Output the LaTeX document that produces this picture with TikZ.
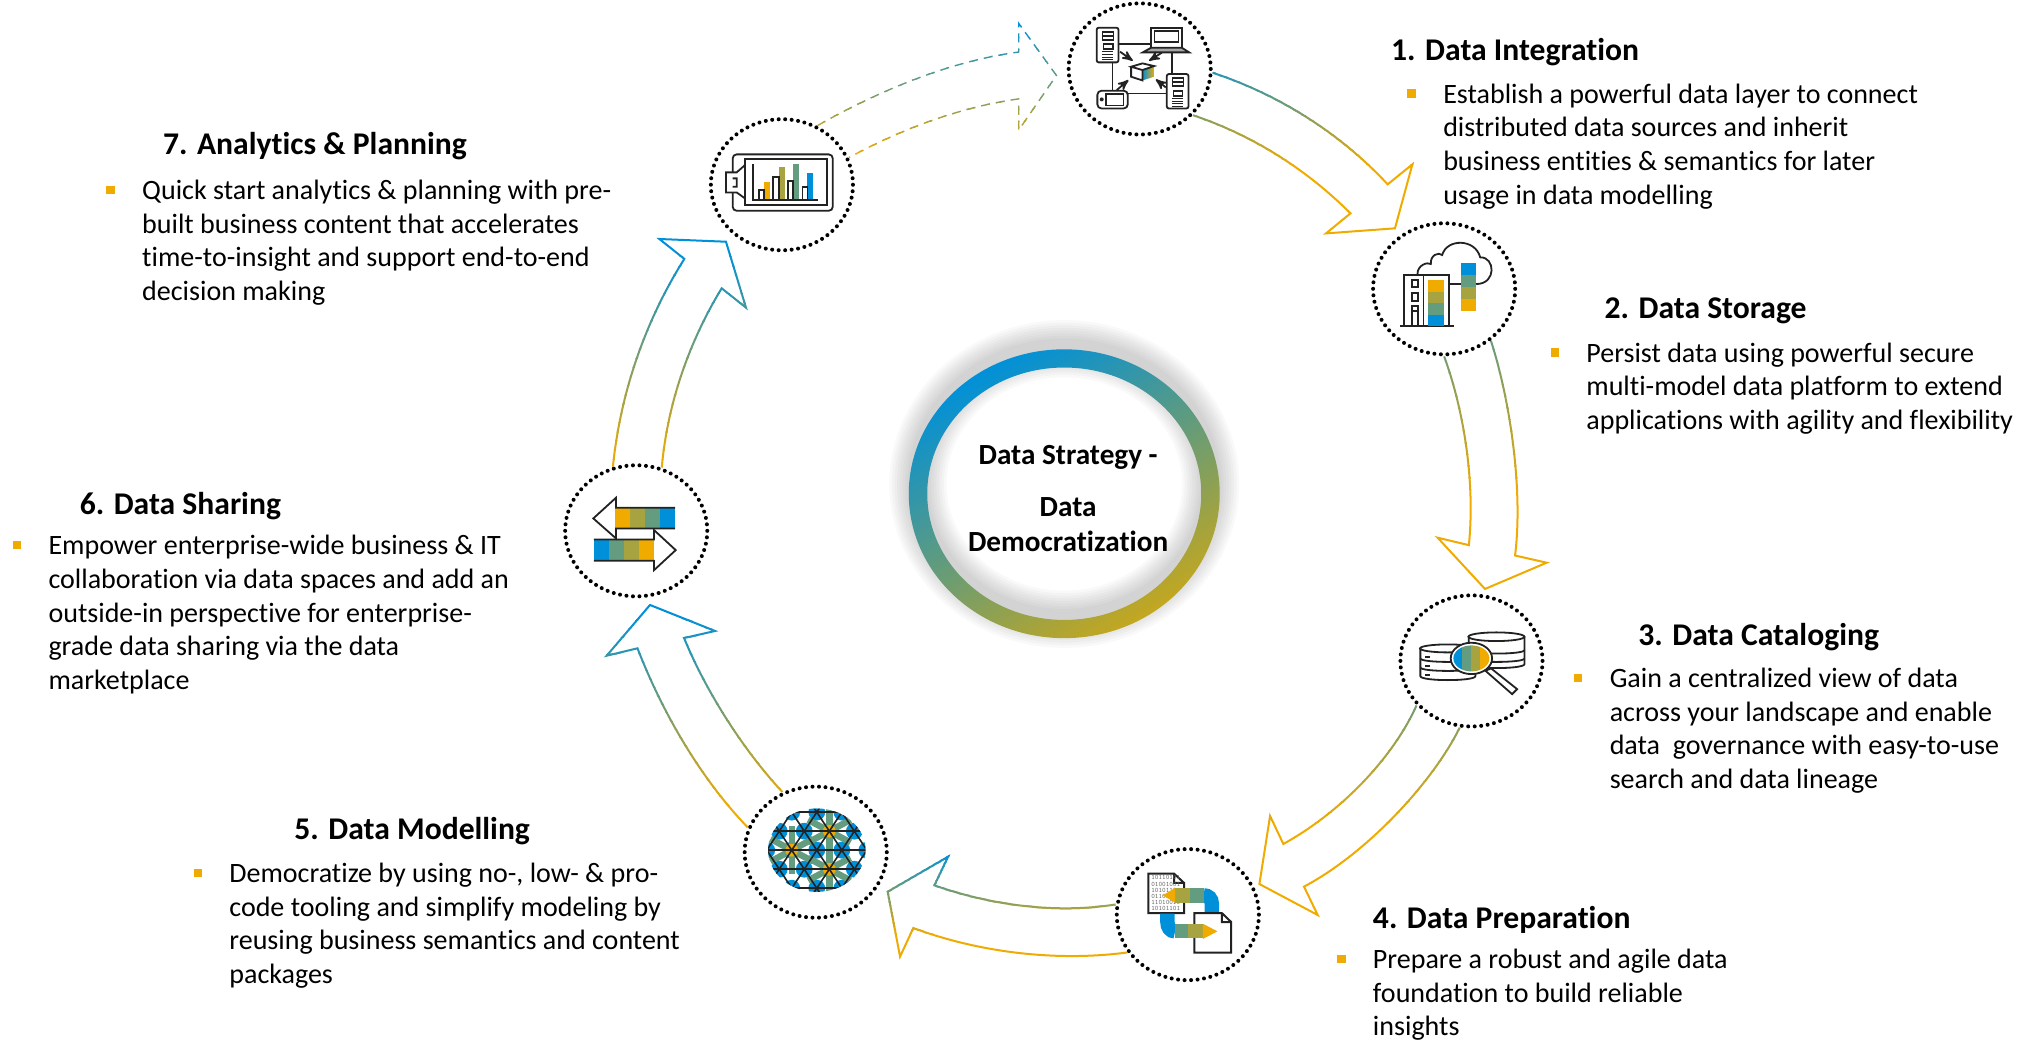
\documentclass[tikz,border=0pt]{standalone}
\usepackage{fontspec}
\setmainfont{Carlito}[Ligatures=NoCommon]
\usetikzlibrary{arrows,positioning,shapes.geometric}
\definecolor{sapblue}{HTML}{0090D9}
\definecolor{sapgreen}{HTML}{639C7F}
\definecolor{sapolive}{HTML}{A8A341}
\definecolor{sapgold}{HTML}{F0AB00}
\definecolor{ringgold}{HTML}{C4A71F}
\definecolor{iconline}{HTML}{222222}
% outline coloured from blue to gold, top to bottom
\newcommand{\gradpath}[4]{
	\foreach \i in {0,...,23}{
		\pgfmathsetmacro{\mix}{\i*100/23}
		\pgfmathsetmacro{\ya}{\i==0 ? -50 : #1+(#2-#1)*\i/24}
		\pgfmathsetmacro{\yb}{\i==23 ? 900 : #1+(#2-#1)*(\i+1)/24+.4}
		\begin{scope}
			\clip (0,\ya) rectangle (1568,\yb);
			\draw[sapgold!\mix!sapblue,#3] #4;
		\end{scope}
	}
}
\tikzset{
    %Define standard arrow tip
    >=stealth',
    %Define style for the dotted rings
    stage/.style={
   	ellipse,
   	draw=black,
   	line width=2pt,
   	line cap=round,
   	dash pattern=on 0pt off 3.25pt,
   	minimum width=71pt,
   	minimum height=65.5pt,
   	inner sep=0pt
   },
    %Define style for texts
    headline/.style={
   	anchor=west,
   	inner sep=0pt,
   	yshift=-1.3pt,
   	font=\fontsize{15.8}{18}\selectfont\bfseries
   },
    bodytext/.style={
   	anchor=north west,
   	inner sep=0pt,
   	align=left,
   	yshift=-2pt,
   	font=\fontsize{14}{16.85}\selectfont
   },
    marker/.style={
   	rectangle,
   	fill=sapgold,
   	minimum size=4.2pt,
   	inner sep=0pt
   },
    % Define arrow style
    pil/.style={
           line width=1pt,
           line join=miter},
    pildash/.style={
           line width=.7pt,
           dash pattern=on 4.5pt off 3pt},
    icon/.style={
           draw=iconline,
           line width=.9pt},
    zoomed/.style={
           x=.1667pt,
           y=-.1667pt}
}
\begin{document}
\begin{tikzpicture}[x=.65pt,y=-.65pt]
	\useasboundingbox (0,0) rectangle (1568,799);
	%hub
	\foreach \w in {44,40,36,32,28,24,20,16}{
		\draw[black,opacity=.025,line width=\w*.65pt] (818,372) ellipse [x radius=112.5,y radius=104];
	}
	\shade[even odd rule,top color=sapblue,bottom color=ringgold,shading angle=30]
		(818,379.5) ellipse [x radius=119.5,y radius=111]
		(818,379.5) ellipse [x radius=105.3,y radius=97];
	\node[align=center,inner sep=0pt,font=\fontsize{14.6}{17.5}\selectfont\bfseries] (hub) at (821,383)
		{Data Strategy -\\[8.5pt]Data\\Democratization};
	%nodes
	\node[stage] (integ) at (876,53) {};
	\node[stage] (store) at (1110,222) {};
	\node[stage] (catal) at (1131,508) {};
	\node[stage] (prep) at (913,703) {};
	\node[stage] (model) at (627,655) {};
	\node[stage] (share) at (489,408) {};
	\node[stage] (analyt) at (601,142) {};
	%arrows
	\gradpath{40}{130}{pil}{(integ.-3) .. controls (975,70) and (1025,97) .. (1066.6,141.7) -- (1085.6,126.3) -- (1072.2,175.5) -- (1019.2,179.4) -- (1038,164) .. controls (1002,128) and (960,103) .. (integ.-41)}
	\gradpath{170}{385}{pil}{(store.-90) .. controls (1125,315) and (1134,370) .. (1129,419) -- (1105,413.3) -- (1141.4,452.7) -- (1188.8,432.5) -- (1164.5,427) .. controls (1171,375) and (1160,305) .. (store.-48.5)}
	\gradpath{450}{640}{pil}{(catal.-141) .. controls (1072,580) and (1033,623) .. (986.4,648.7) -- (976.2,627.2) -- (968,679.5) -- (1012.8,703.3) -- (1002.3,681.5) .. controls (1052,655) and (1102,600) .. (catal.-100)}
	\gradpath{655}{720}{pil}{(prep.172) .. controls (815,702) and (765,697) .. (718.2,680.5) -- (728.7,658.5) -- (682.3,685.4) -- (691.8,735.3) -- (702,713.3) .. controls (755,733) and (815,739) .. (prep.212)}
	\gradpath{470}{625}{pil}{(model.160) .. controls (540,600) and (510,550) .. (490,498.3) -- (466.3,504) -- (499.6,465) -- (549.6,485) -- (525.8,490.4) .. controls (542,530) and (570,575) .. (model.119)}
	\gradpath{190}{360}{pil}{(share.110) .. controls (477,300) and (497,245) .. (526,199) -- (506.8,183.7) -- (558,185.8) -- (573.4,236.5) -- (554.7,221.6) .. controls (530,262) and (513,310) .. (share.68)}
	\gradpath{15}{125}{pildash}{(analyt.59) .. controls (675,70) and (730,47) .. (783,40) -- (783,18) -- (812,58) -- (783,100) -- (783,76) .. controls (740,82) and (695,98) .. (analyt.22)}
	%texts
	\node[headline] (t1) at (1069,38) {1. Data Integration};
	\node[marker] (b1) at (1085,72) {};
	\node[bodytext] (d1) at (1109,61) {Establish a powerful data layer to connect\\distributed data sources and inherit\\business entities \& semantics for later\\usage in data modelling};
	\node[headline] (t2) at (1233,237) {2. Data Storage};
	\node[marker] (b2) at (1195,271) {};
	\node[bodytext] (d2) at (1219,260) {Persist data using powerful secure\\multi-model data platform to extend\\applications with agility and flexibility};
	\node[headline] (t3) at (1259,488) {3. Data Cataloging};
	\node[marker] (b3) at (1213,521) {};
	\node[bodytext] (d3) at (1237,510) {Gain a centralized view of data\\across your landscape and enable\\data\ \ governance with easy-to-use\\search and data lineage};
	\node[headline] (t4) at (1055,705) {4. Data Preparation};
	\node[marker] (b4) at (1031,737) {};
	\node[bodytext] (d4) at (1055,726) {Prepare a robust and agile data\\foundation to build reliable\\insights};
	\node[headline] (t5) at (226,637) {5. Data Modelling};
	\node[marker] (b5) at (152,671) {};
	\node[bodytext] (d5) at (176,660) {Democratize by using no-, low- \& pro-\\code tooling and simplify modeling by\\reusing business semantics and content\\packages};
	\node[headline] (t6) at (61,387) {6. Data Sharing};
	\node[marker] (b6) at (13,419) {};
	\node[bodytext] (d6) at (37,408) {Empower enterprise-wide business \& IT\\collaboration via data spaces and add an\\outside-in perspective for enterprise-\\grade data sharing via the data\\marketplace};
	\node[headline] (t7) at (125,110) {7. Analytics \& Planning};
	\node[marker] (b7) at (85,146) {};
	\node[bodytext] (d7) at (109,135) {Quick start analytics \& planning with pre-\\built business content that accelerates\\time-to-insight and support end-to-end\\decision making};
	%icon integration
	\begin{scope}[shift={(818.6,0)},zoomed]
		\draw[icon] (160,132) -- (258,132) (320,157) -- (320,222) (142,187) -- (142,272) (188,280) -- (305,280);
		\draw[icon,rounded corners=1pt] (95,83) rectangle (160,187) (305,222) rectangle (370,325);
		\draw[icon] (112,95) rectangle (145,119) (112,107) -- (145,107) (115,133) rectangle (143,147);
		\draw[icon] (322,233) rectangle (355,258) (322,245) -- (355,245) (325,272) rectangle (352,287);
		\foreach \k in {155,163,171,178}{\draw[icon,line width=.5pt] (112,\k) -- (145,\k);}
		\foreach \k in {295,303,311,318}{\draw[icon,line width=.5pt] (322,\k) -- (355,\k);}
		\draw[icon] (258,143) -- (258,85) -- (350,85) -- (350,143) (268,93) rectangle (340,125);
		\draw[icon,fill=iconline!40] (233,157) -- (258,143) -- (350,143) -- (372,157) -- cycle;
		\draw[icon,rounded corners=2pt] (97,272) rectangle (188,325);
		\draw[icon] (122,282) rectangle (175,316);
		\fill[iconline] (110,298) circle (1pt);
		\draw[icon,->] (165,155) -- (203,182);
		\draw[icon,->] (290,158) -- (252,182);
		\draw[icon,->] (155,270) -- (190,240);
		\draw[icon,->] (302,262) -- (272,238);
		\shade[left color=sapblue,right color=sapgold] (232,210) -- (267,198) -- (267,230) -- (232,241) -- cycle;
		\draw[icon] (198,200) -- (232,190) -- (267,198) -- (232,210) -- cycle (198,200) -- (198,230) -- (232,241) -- (232,210);
	\end{scope}
	%icon storage
	\begin{scope}[shift={(1030,153.7)},zoomed]
		\draw[icon] (232,222) .. controls (232,195) and (262,185) .. (272,192) .. controls (270,165) and (295,155) .. (306,165) .. controls (320,115) and (405,115) .. (420,172) .. controls (465,170) and (470,252) .. (408,252);
		\draw[icon] (192,375) -- (192,225) -- (327,225) -- (327,375) (250,225) -- (250,375) (180,377) -- (340,377) (327,253) -- (365,253);
		\draw[icon] (215,240) rectangle (233,262) (215,280) rectangle (233,302) (215,375) -- (215,318) -- (233,318) -- (233,375) (215,332) -- (233,332);
		\foreach \c [count=\k from 0] in {sapgold,sapolive,sapgreen,sapblue}{
			\fill[\c] (265,240+\k*34.5) rectangle (310,240+\k*34.5+34.5);
		}
		\foreach \c [count=\k from 0] in {sapblue,sapgreen,sapolive,sapgold}{
			\fill[\c] (363,190+\k*35.5) rectangle (407,190+\k*35.5+35.5);
		}
	\end{scope}
	%icon catalog
	\begin{scope}[shift={(845.5,453.5)},zoomed]
		\draw[icon,fill=white] (1105,140) -- (1105,222) .. controls (1105,238) and (1272,238) .. (1272,222) -- (1272,140);
		\draw[icon] (1105,180) .. controls (1105,194) and (1272,194) .. (1272,180) (1105,205) .. controls (1105,219) and (1272,219) .. (1272,205);
		\draw[icon,fill=white] (1188,140) ellipse [x radius=84,y radius=13];
		\draw[icon,fill=white] (960,175) -- (960,258) .. controls (960,274) and (1125,274) .. (1125,258) -- (1125,175);
		\draw[icon] (960,205) .. controls (960,219) and (1125,219) .. (1125,205) (960,232) .. controls (960,246) and (1125,246) .. (1125,232);
		\draw[icon,fill=white] (1042,175) ellipse [x radius=83,y radius=12];
		\foreach \k in {200,227,254}{\draw[icon] (975,\k) -- (988,\k);}
		\draw[icon,fill=white] (1155,242) -- (1235,312) -- (1250,297) -- (1172,235) -- cycle;
		\draw[icon,fill=white] (1113,205) ellipse [x radius=62,y radius=47];
		\begin{scope}
			\clip (1113,205) ellipse [x radius=54,y radius=39];
			\fill[sapblue] (1058,160) rectangle (1086,250);
			\fill[sapgreen] (1086,160) rectangle (1113,250);
			\fill[sapolive] (1113,160) rectangle (1140,250);
			\fill[sapgold] (1140,160) rectangle (1168,250);
		\end{scope}
	\end{scope}
	%icon preparation
	\begin{scope}[shift={(845.5,453.5)},zoomed]
		\draw[icon,fill=white,line width=1pt] (145,850) -- (222,850) -- (252,878) -- (252,968) -- (145,968) -- cycle (222,850) -- (222,878) -- (252,878);
		\node[inner sep=0pt,align=left,text=iconline!70,font=\fontsize{3.4}{3.1}\selectfont\ttfamily] (bits) at (197,909) {10110101\\01001001\\10101101\\01100100\\11010010\\10101101};
		\draw[sapblue,line width=7.2pt] (335,975) -- (335,940) .. controls (335,925) and (325,915) .. (310,915);
		\fill[sapgreen] (312,893) rectangle (270,937);
		\fill[sapolive] (270,893) rectangle (225,937);
		\fill[sapgold] (225,893) -- (188,915) -- (225,937) -- cycle;
		\draw[icon,fill=white,line width=1pt] (283,968) -- (365,968) -- (393,995) -- (393,1087) -- (283,1087) -- cycle (365,968) -- (365,995) -- (393,995);
		\draw[sapblue,line width=7.2pt] (202,970) -- (202,995) .. controls (202,1010) and (210,1023) .. (225,1023);
		\fill[sapgreen] (225,1002) rectangle (265,1044);
		\fill[sapolive] (265,1002) rectangle (308,1044);
		\fill[sapgold] (308,1000) -- (352,1023) -- (308,1046) -- cycle;
	\end{scope}
	%icon modelling
	\begin{scope}[shift={(584.2,615)},zoomed]
		\clip (170,150) ellipse [x radius=146,y radius=125];
		\foreach \r/\yy in {0/36,1/93,0/150,1/207,0/264}{
			\foreach \k in {0,...,5}{
				\fill[sapblue] (-55+\r*37.5+\k*75,\yy) circle (4.2pt);
			}
		}
		\foreach \xx/\yy in {95/150,207.5/93,207.5/207}{
			\foreach \a in {28,90,152,208,270,332}{
				\draw[sapgreen,line width=3.2pt] (\xx,\yy) -- ++(\a:72);
			}
			\fill[sapgold] (\xx,\yy) circle (3.2pt);
		}
		\foreach \k in {-6,...,8}{
			\draw[iconline,line width=.8pt] (57.5+\k*75,-21) -- ++(225,342);
			\draw[iconline,line width=.8pt] (57.5+\k*75,-21) -- ++(-225,342);
		}
		\foreach \yy in {36,93,150,207,264}{
			\draw[iconline,line width=.8pt] (0,\yy) -- (340,\yy);
		}
	\end{scope}
	%icon sharing
	\begin{scope}[shift={(415,338.2)},zoomed]
		\foreach \c [count=\k from 0] in {sapgold,sapolive,sapgreen,sapblue}{
			\fill[\c] (225+\k*45,203) rectangle (270+\k*45,265);
		}
		\foreach \c [count=\k from 0] in {sapblue,sapgreen,sapolive,sapgold}{
			\fill[\c] (162+\k*45,298) rectangle (207+\k*45,362);
		}
		\draw[icon] (405,203) -- (228,203) -- (228,173) -- (160,235) -- (228,295) -- (228,265) -- (405,265);
		\draw[icon] (162,298) -- (342,298) -- (342,270) -- (407,330) -- (342,390) -- (342,362) -- (162,362);
		\draw[icon] (228,265) -- (342,265) (228,295) -- (228,298);
	\end{scope}
	%icon analytics
	\begin{scope}[shift={(545.7,88.4)},zoomed]
		\draw[icon,rounded corners=2pt] (68,172) -- (68,118) -- (368,118) -- (368,287) -- (68,287) -- (68,232);
		\draw[icon] (105,132) rectangle (350,270);
		\draw[icon] (105,150) -- (80,172) -- (48,172) -- (48,232) -- (80,232) -- (105,250) (68,190) -- (80,190) -- (80,215) -- (68,215);
		\fill[sapgold] (162,200) rectangle (180,252);
		\fill[sapolive] (208,157) rectangle (224,252);
		\fill[sapgreen] (249,148) rectangle (267,252);
		\fill[sapblue] (292,173) rectangle (310,252);
		\draw[icon] (146,255) |- (162,225) -- (162,255) (190,255) |- (208,185) -- (208,255) (233,255) |- (249,198) -- (249,255) (277,255) |- (292,215) -- (292,255);
		\draw[icon] (130,148) -- (130,255) -- (325,255);
	\end{scope}
\end{tikzpicture}
\end{document}
